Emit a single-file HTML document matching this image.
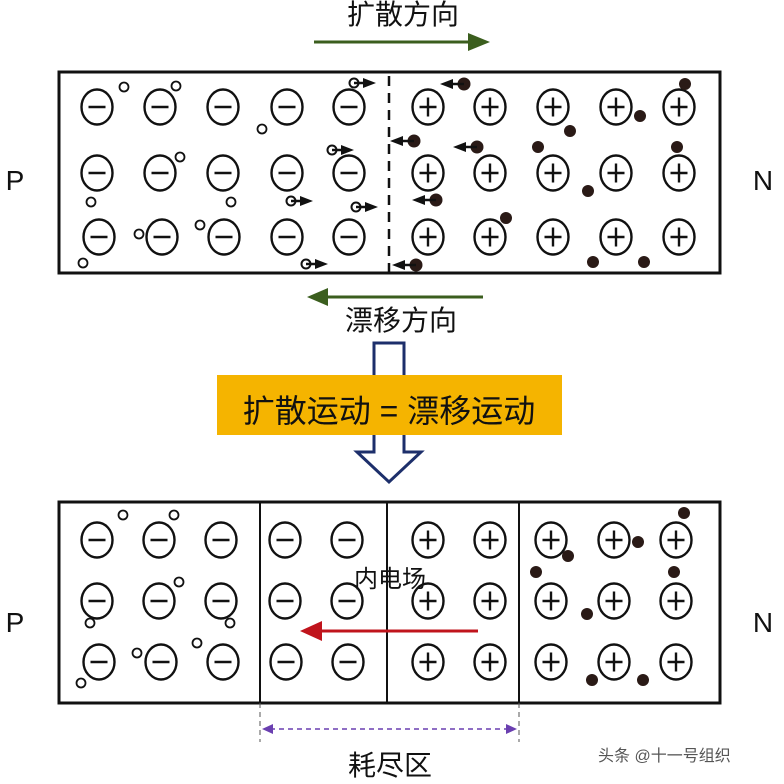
<!DOCTYPE html>
<html><head><meta charset="utf-8"><style>
html,body{margin:0;padding:0;background:#fff;}
svg{display:block;}
text{font-family:"Liberation Sans","Noto Sans CJK SC",sans-serif;fill:#111;}
</style></head><body>
<svg width="784" height="784" viewBox="0 0 784 784" xmlns="http://www.w3.org/2000/svg">
<defs>
<g id="m"><ellipse cx="0" cy="0" rx="15.5" ry="17.5" fill="none" stroke="#111" stroke-width="2.4"/><line x1="-8.5" y1="0" x2="8.5" y2="0" stroke="#111" stroke-width="2.4"/></g>
<g id="p"><ellipse cx="0" cy="0" rx="15.5" ry="17.5" fill="none" stroke="#111" stroke-width="2.4"/><line x1="-8.5" y1="0" x2="8.5" y2="0" stroke="#111" stroke-width="2.4"/><line x1="0" y1="-9.5" x2="0" y2="9.5" stroke="#111" stroke-width="2.4"/></g>
<circle id="h" r="4.5" fill="none" stroke="#111" stroke-width="1.8"/>
<circle id="e" r="6" fill="#2a1a16"/>
<g id="ha"><circle r="4.5" fill="none" stroke="#111" stroke-width="2"/><line x1="0" y1="0" x2="12" y2="0" stroke="#111" stroke-width="2.5"/><polygon points="9,-5 22,0 9,5" fill="#111"/></g>
<g id="ea"><circle r="6.5" fill="#2a1a16"/><line x1="0" y1="0" x2="-14" y2="0" stroke="#111" stroke-width="2.5"/><polygon points="-11,-5 -24,0 -11,5" fill="#111"/></g>
</defs>

<text x="403" y="24" font-size="28" text-anchor="middle">扩散方向</text>
<line x1="314" y1="42" x2="470" y2="42" stroke="#3b5e1e" stroke-width="3"/>
<polygon points="468,33 490,42 468,51" fill="#3b5e1e"/>

<rect x="59" y="72" width="661" height="201" fill="none" stroke="#111" stroke-width="3"/>
<line x1="389" y1="76" x2="389" y2="272" stroke="#111" stroke-width="2.5" stroke-dasharray="10,7"/>
<g>
<use href="#m" x="97" y="107"/><use href="#m" x="160" y="107"/><use href="#m" x="223" y="107"/><use href="#m" x="287" y="107"/><use href="#m" x="349" y="107"/>
<use href="#p" x="428" y="107"/><use href="#p" x="490" y="107"/><use href="#p" x="553" y="107"/><use href="#p" x="616" y="107"/><use href="#p" x="679" y="107"/>
<use href="#m" x="97" y="173"/><use href="#m" x="160" y="173"/><use href="#m" x="223" y="173"/><use href="#m" x="287" y="173"/><use href="#m" x="349" y="173"/>
<use href="#p" x="428" y="173"/><use href="#p" x="490" y="173"/><use href="#p" x="553" y="173"/><use href="#p" x="616" y="173"/><use href="#p" x="679" y="173"/>
<use href="#m" x="99" y="237"/><use href="#m" x="162" y="237"/><use href="#m" x="224" y="237"/><use href="#m" x="287" y="237"/><use href="#m" x="349" y="237"/>
<use href="#p" x="428" y="237"/><use href="#p" x="490" y="237"/><use href="#p" x="553" y="237"/><use href="#p" x="616" y="237"/><use href="#p" x="679" y="237"/>
</g>
<use href="#h" x="124" y="87"/><use href="#h" x="176" y="86"/><use href="#h" x="262" y="129"/><use href="#h" x="180" y="157"/><use href="#h" x="91" y="202"/><use href="#h" x="231" y="202"/><use href="#h" x="200" y="225"/><use href="#h" x="139" y="234"/><use href="#h" x="83" y="263"/>
<use href="#ha" x="354" y="83"/><use href="#ha" x="332" y="150"/><use href="#ha" x="291" y="201"/><use href="#ha" x="356" y="207"/><use href="#ha" x="306" y="264"/>
<use href="#ea" x="464" y="84"/><use href="#ea" x="414" y="141"/><use href="#ea" x="477" y="147"/><use href="#ea" x="436" y="200"/><use href="#ea" x="416" y="265"/>
<use href="#e" x="685" y="84"/><use href="#e" x="640" y="116"/><use href="#e" x="570" y="131"/><use href="#e" x="538" y="147"/><use href="#e" x="677" y="147"/><use href="#e" x="588" y="191"/><use href="#e" x="506" y="218"/><use href="#e" x="593" y="262"/><use href="#e" x="644" y="262"/>

<text x="15" y="190" font-size="28" text-anchor="middle">P</text>
<text x="763" y="190" font-size="28" text-anchor="middle">N</text>

<line x1="483" y1="297" x2="326" y2="297" stroke="#3b5e1e" stroke-width="3"/>
<polygon points="328,288 307,297 328,306" fill="#3b5e1e"/>
<text x="401" y="330" font-size="28" text-anchor="middle">漂移方向</text>

<polygon points="374,343 404,343 404,452 421,452 389,482 357,452 374,452" fill="#fff" stroke="#1d2f6b" stroke-width="3"/>
<rect x="217" y="375" width="345" height="60" fill="#f5b400"/>
<text x="389" y="422" font-size="32" text-anchor="middle" xml:space="preserve">扩散运动 = 漂移运动</text>

<rect x="59" y="502" width="661" height="201" fill="none" stroke="#111" stroke-width="3"/>
<line x1="260" y1="502" x2="260" y2="703" stroke="#111" stroke-width="2"/>
<line x1="387" y1="502" x2="387" y2="703" stroke="#111" stroke-width="2"/>
<line x1="519" y1="502" x2="519" y2="703" stroke="#111" stroke-width="2"/>
<use href="#m" x="97" y="540"/><use href="#m" x="159" y="540"/><use href="#m" x="221" y="540"/><use href="#m" x="285" y="540"/><use href="#m" x="347" y="540"/>
<use href="#p" x="428" y="540"/><use href="#p" x="490" y="540"/><use href="#p" x="551" y="540"/><use href="#p" x="614" y="540"/><use href="#p" x="676" y="540"/>
<use href="#m" x="97" y="601"/><use href="#m" x="159" y="601"/><use href="#m" x="221" y="601"/><use href="#m" x="285" y="601"/><use href="#m" x="347" y="601"/>
<use href="#p" x="428" y="601"/><use href="#p" x="490" y="601"/><use href="#p" x="551" y="601"/><use href="#p" x="614" y="601"/><use href="#p" x="676" y="601"/>
<use href="#m" x="99" y="662"/><use href="#m" x="161" y="662"/><use href="#m" x="223" y="662"/><use href="#m" x="286" y="662"/><use href="#m" x="348" y="662"/>
<use href="#p" x="428" y="662"/><use href="#p" x="490" y="662"/><use href="#p" x="551" y="662"/><use href="#p" x="614" y="662"/><use href="#p" x="676" y="662"/>
<use href="#h" x="123" y="515"/><use href="#h" x="174" y="515"/><use href="#h" x="179" y="582"/><use href="#h" x="90" y="623"/><use href="#h" x="230" y="623"/><use href="#h" x="197" y="643"/><use href="#h" x="137" y="653"/><use href="#h" x="81" y="683"/>
<use href="#e" x="684" y="513"/><use href="#e" x="638" y="542"/><use href="#e" x="568" y="556"/><use href="#e" x="536" y="572"/><use href="#e" x="674" y="572"/><use href="#e" x="587" y="614"/><use href="#e" x="592" y="680"/><use href="#e" x="643" y="680"/>
<text x="390" y="587" font-size="24" text-anchor="middle">内电场</text>
<line x1="478" y1="631" x2="318" y2="631" stroke="#c0141c" stroke-width="3"/>
<polygon points="322,621 300,631 322,641" fill="#c0141c"/>

<text x="15" y="632" font-size="28" text-anchor="middle">P</text>
<text x="763" y="632" font-size="28" text-anchor="middle">N</text>

<line x1="260" y1="703" x2="260" y2="742" stroke="#555" stroke-width="1" stroke-dasharray="5,4"/>
<line x1="519" y1="703" x2="519" y2="742" stroke="#555" stroke-width="1" stroke-dasharray="5,4"/>
<line x1="270" y1="729" x2="509" y2="729" stroke="#6a3fb0" stroke-width="1.5" stroke-dasharray="5,4"/>
<polygon points="262,729 273,724 273,734" fill="#6a3fb0"/>
<polygon points="517,729 506,724 506,734" fill="#6a3fb0"/>
<text x="390" y="775" font-size="28" text-anchor="middle">耗尽区</text>
<text x="598" y="761" font-size="16" style="fill:#555">头条 @十一号组织</text>
</svg>
</body></html>
